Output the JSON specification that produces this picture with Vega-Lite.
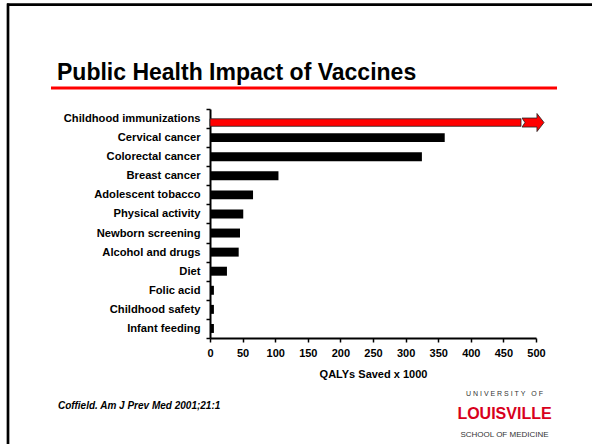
{
  "$schema": "https://vega.github.io/schema/vega-lite/v6.json",
  "width": 326,
  "height": 229,
  "autosize": {"type": "none"},
  "padding": {"left": 210, "top": 109, "right": 56, "bottom": 106},
  "background": "white",
  "config": {"view": {"stroke": null}, "font": "Liberation Sans", "axisX": {"labelOverlap": false, "labelSeparation": 0}},
  "datasets": {
    "qaly": [
      {"category": "Childhood immunizations", "value": 477},
      {"category": "Cervical cancer", "value": 360},
      {"category": "Colorectal cancer", "value": 325},
      {"category": "Breast cancer", "value": 105},
      {"category": "Adolescent tobacco", "value": 66},
      {"category": "Physical activity", "value": 51},
      {"category": "Newborn screening", "value": 46},
      {"category": "Alcohol and drugs", "value": 44},
      {"category": "Diet", "value": 26},
      {"category": "Folic acid", "value": 6},
      {"category": "Childhood safety", "value": 6},
      {"category": "Infant feeding", "value": 6}
    ]
  },
  "encoding": {
    "y": {
      "field": "category", "type": "nominal",
      "sort": ["Childhood immunizations", "Cervical cancer", "Colorectal cancer", "Breast cancer", "Adolescent tobacco", "Physical activity", "Newborn screening", "Alcohol and drugs", "Diet", "Folic acid", "Childhood safety", "Infant feeding"],
      "scale": {"paddingInner": 0, "paddingOuter": 0},
      "axis": {
        "title": null, "tickBand": "extent", "domainWidth": 2, "domainColor": "black",
        "tickColor": "black", "tickWidth": 1.5, "tickSize": 4,
        "labelFont": "Liberation Sans", "labelFontWeight": "bold", "labelFontSize": 11.2,
        "labelColor": "black", "labelPadding": 6
      }
    },
    "x": {
      "field": "value", "type": "quantitative",
      "scale": {"domain": [0, 500], "nice": false},
      "axis": {
        "title": "QALYs Saved x 1000", "values": [0, 50, 100, 150, 200, 250, 300, 350, 400, 450, 500],
        "labelOverlap": false,
        "grid": false, "domainWidth": 2, "domainColor": "black", "tickColor": "black",
        "tickWidth": 1.5, "tickSize": 4, "labelFont": "Liberation Sans", "labelFontSize": 11,
        "labelFontWeight": "bold", "labelColor": "black", "labelPadding": 5, "labelFlush": false,
        "titleFont": "Liberation Sans", "titleFontSize": 11, "titleFontWeight": "bold",
        "titleColor": "black", "titlePadding": 10
      }
    }
  },
  "layer": [
    {
      "data": {"name": "qaly"},
      "transform": [{"filter": "datum.category !== 'Childhood immunizations'"}],
      "mark": {"type": "bar", "color": "black", "height": {"band": 0.47}}
    },
    {
      "data": {"name": "qaly"},
      "transform": [{"filter": "datum.category === 'Childhood immunizations'"}],
      "mark": {"type": "bar", "color": "#ff0000", "stroke": "#222222", "strokeWidth": 0.8, "height": 7.5, "yOffset": 4}
    },
    {
      "data": {"values": [{"category": "Childhood immunizations", "value": 495.4}]},
      "mark": {
        "type": "point", "filled": true, "opacity": 1, "fill": "#ff0000", "stroke": "#222222", "strokeWidth": 0.8,
        "shape": "M -1 -0.41 L 0.36 -0.41 L 0.36 -0.82 L 1 0 L 0.36 0.82 L 0.36 0.41 L -1 0.41 L -0.73 0 Z",
        "size": 484, "yOffset": 4
      }
    },
    {
      "data": {"values": [{"text": "Public Health Impact of Vaccines"}]},
      "mark": {"type": "text", "align": "left", "baseline": "alphabetic", "font": "Liberation Sans", "fontWeight": "bold", "fontSize": 23, "color": "black"},
      "encoding": {"x": {"value": -153}, "y": {"value": -29}, "text": {"field": "text"}}
    },
    {
      "data": {"values": [{}]},
      "mark": {"type": "rule", "color": "#ff0000", "strokeWidth": 3},
      "encoding": {"x": {"value": -159}, "x2": {"value": 347}, "y": {"value": -21}, "y2": {"value": -21}}
    },
    {
      "data": {"values": [{}]},
      "mark": {"type": "rule", "color": "black", "strokeWidth": 2.7},
      "encoding": {"x": {"value": -203}, "x2": {"value": 382}, "y": {"value": -104.3}, "y2": {"value": -104.3}}
    },
    {
      "data": {"values": [{}]},
      "mark": {"type": "rule", "color": "black", "strokeWidth": 2.7},
      "encoding": {"x": {"value": -202}, "x2": {"value": -202}, "y": {"value": -105.6}, "y2": {"value": 335}}
    },
    {
      "data": {"values": [{"text": "Coffield. Am J Prev Med 2001;21:1"}]},
      "mark": {"type": "text", "align": "left", "baseline": "alphabetic", "font": "Liberation Sans", "fontWeight": "bold", "fontStyle": "italic", "fontSize": 10, "color": "black"},
      "encoding": {"x": {"value": -152}, "y": {"value": 300}, "text": {"field": "text"}}
    },
    {
      "data": {"values": [{"text": "U\u00a0N\u00a0I\u00a0V\u00a0E\u00a0R\u00a0S\u00a0I\u00a0T\u00a0Y\u00a0\u00a0\u00a0O\u00a0F"}]},
      "mark": {"type": "text", "align": "center", "baseline": "alphabetic", "font": "Liberation Sans", "fontSize": 7, "color": "#333333"},
      "encoding": {"x": {"value": 294.5}, "y": {"value": 287}, "text": {"field": "text"}}
    },
    {
      "data": {"values": [{"text": "LOUISVILLE"}]},
      "mark": {"type": "text", "align": "center", "baseline": "alphabetic", "font": "Liberation Sans", "fontWeight": "bold", "fontSize": 16, "color": "#d8001c"},
      "encoding": {"x": {"value": 294.5}, "y": {"value": 310}, "text": {"field": "text"}}
    },
    {
      "data": {"values": [{"text": "SCHOOL OF MEDICINE"}]},
      "mark": {"type": "text", "align": "center", "baseline": "alphabetic", "font": "Liberation Sans", "fontSize": 8, "color": "#333333"},
      "encoding": {"x": {"value": 294.5}, "y": {"value": 328}, "text": {"field": "text"}}
    }
  ]
}
